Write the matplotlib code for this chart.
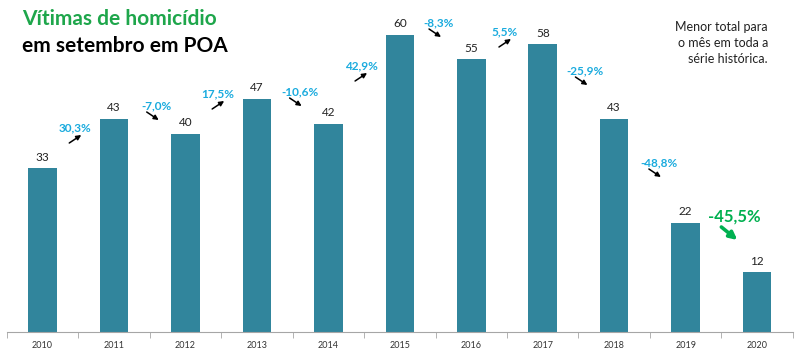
import numpy as np
import matplotlib
matplotlib.use("Agg")
import matplotlib.pyplot as plt

# dados: vitimas de homicidio em setembro, Porto Alegre
anos = ["2010", "2011", "2012", "2013", "2014", "2015", "2016", "2017", "2018", "2019", "2020"]
vitimas = [33, 43, 40, 47, 42, 60, 55, 58, 43, 22, 12]

plt.rcParams['font.family'] = ['Lato', 'DejaVu Sans']

COR_BARRA = "#31859C"
COR_PCT = "#1AABDE"
COR_VERDE = "#00B050"

W, H = 800, 354
base_px = 331.5          # linha de base em pixels
px_por_un = 4.95         # pixels por unidade no eixo y
px_por_cat = 71.45       # pixels por categoria

fig = plt.figure(figsize=(W / 100, H / 100), dpi=100)
ax = fig.add_axes([6.8 / W, (H - base_px) / H, (792.8 - 6.8) / W, base_px / H])

x = np.arange(len(anos))
ax.bar(x, vitimas, width=0.4, color=COR_BARRA, zorder=2)
ax.set_xlim(-0.5, len(anos) - 0.5)
ax.set_ylim(0, base_px / px_por_un)

for xi, v in zip(x, vitimas):
    ax.annotate(str(v), (xi, v), xytext=(0, 4), textcoords="offset points",
                ha="center", va="bottom", fontsize=8.5, color="#222222")

# eixos
for s in ["top", "left", "right"]:
    ax.spines[s].set_visible(False)
ax.spines["bottom"].set_color("#A6A6A6")
ax.set_yticks([])
ax.set_xticks(x)
ax.set_xticklabels(anos, fontsize=6.5, color="#333333")
ax.tick_params(axis="x", which="major", length=0, pad=7)
ax.set_xticks(np.arange(-0.5, len(anos), 1.0), minor=True)
ax.tick_params(axis="x", which="minor", length=4, color="#A6A6A6")


def dx(px):
    return px / px_por_cat


def ydata(py):
    return (base_px - py) / px_por_un


# posicao do texto (deslocamento em px da fronteira, y em px) para cada variacao
pct_pos = [(-3, 128), (7, 106), (-3, 94), (7, 92), (-3, 66),
           (3.5, 23), (-2, 32), (7, 71), (9, 163), (13, 217)]

for i, (ox, py) in enumerate(pct_pos):
    var = (vitimas[i + 1] / vitimas[i] - 1) * 100
    txt = f"{var:.1f}%".replace(".", ",")
    cx = i + 0.5 + dx(ox)
    ultimo = i == len(pct_pos) - 1
    ax.text(cx, ydata(py), txt, ha="center", va="center",
            fontsize=12 if ultimo else 8.5,
            fontweight="bold",
            color=COR_VERDE if ultimo else COR_PCT)
    if ultimo:
        tail, head = (-13, 10), (3, 23)
        props = dict(arrowstyle="-|>", color=COR_VERDE, lw=2.6, mutation_scale=11,
                     shrinkA=0, shrinkB=0)
    elif var > 0:
        tail, head = (-6, 15), (6, 7)
        props = dict(arrowstyle="-|>", color="black", lw=1.1, mutation_scale=7,
                     shrinkA=0, shrinkB=0)
    else:
        tail, head = (-10, 6), (2, 14)
        props = dict(arrowstyle="-|>", color="black", lw=1.1, mutation_scale=7,
                     shrinkA=0, shrinkB=0)
    ax.annotate("", xy=(cx + dx(head[0]), ydata(py + head[1])),
                xytext=(cx + dx(tail[0]), ydata(py + tail[1])),
                arrowprops=props)

# titulo
fig.text(22 / W, 1 - 19 / H, "Vítimas de homicídio", fontsize=15,
         fontweight="bold", color="#1EA64B", va="center", ha="left")
fig.text(22 / W, 1 - 46 / H, "em setembro em POA", fontsize=15,
         fontweight="bold", color="black", va="center", ha="left")

fig.text(768 / W, 1 - 43 / H, "Menor total para\no mês em toda a\nsérie histórica.",
         fontsize=9, ha="right", va="center", color="#222222", linespacing=1.4)

fig.savefig("out.png", dpi=100, facecolor="white")
